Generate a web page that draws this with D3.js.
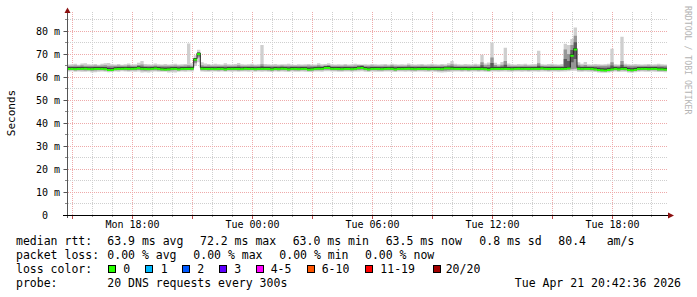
<!DOCTYPE html>
<html><head><meta charset="utf-8">
<script src="https://cdn.jsdelivr.net/npm/d3@7"></script>
<style>
html,body{margin:0;padding:0;background:#fff;}
svg{display:block;}
text{font-family:"DejaVu Sans Mono",monospace;}
</style></head><body>
<svg id="c" width="697" height="297"></svg>
<script>
// ---------- data ----------
const startTime = "2026-04-20T14:45:00Z";
const endTime   = "2026-04-21T20:45:00Z";
const stepMinutes = 10;

// median rtt per step (ms)
const median = [
63.8,63.8,63.7,63.8,63.8,63.9,63.7,63.7,63.8,63.8,
63.8,63.7,63.3,63.3,63.7,63.8,63.8,63.9,63.8,63.8,
63.9,64.1,63.8,63.8,63.7,63.8,64.0,63.8,63.6,63.5,
63.6,63.8,63.8,63.6,63.8,63.8,63.8,63.9,67.8,70.2,
63.9,63.8,63.8,63.8,63.7,63.8,63.8,63.6,63.8,63.8,
63.8,63.8,63.7,63.9,63.8,63.8,63.7,63.8,63.8,63.8,
63.8,63.6,63.8,63.7,63.9,63.8,63.6,63.8,63.8,63.7,
63.8,63.8,63.5,63.6,63.8,63.9,63.8,64.2,64.2,63.8,
63.8,63.8,63.7,63.8,63.8,63.7,63.8,64.1,64.2,63.8,
63.6,63.8,63.8,63.8,63.7,63.8,63.9,63.8,63.6,63.8,
63.8,63.8,63.9,63.8,63.7,63.8,63.8,63.8,63.7,63.8,
63.8,63.8,63.7,64.0,64.0,63.9,63.8,63.8,63.8,63.8,
63.7,63.8,63.8,63.8,63.8,63.7,63.5,63.8,63.8,63.8,
63.8,63.8,63.8,63.7,63.8,63.9,63.8,63.8,63.8,63.8,
63.8,63.8,64.0,63.8,63.8,63.8,63.8,63.8,63.8,63.8,
64.0,69.5,72.2,63.9,63.8,63.8,63.8,63.8,63.6,63.3,
63.2,63.1,63.3,63.6,63.8,63.6,63.8,63.8,63.3,63.2,
63.4,63.8,63.8,63.8,63.7,63.8,63.8,63.6,63.6,63.5];

// highest ping per step (light smoke top)
const smokeMax = [
65.5,65.6,65.8,65.4,65.9,66.0,65.6,65.5,65.7,65.4,
65.8,66.0,66.1,65.6,65.5,65.7,65.4,65.6,65.9,65.5,
65.6,66.2,67.0,65.7,65.6,65.5,65.9,65.6,65.5,65.7,
65.5,65.6,65.8,65.5,65.6,65.7,74.6,66.0,69.5,71.9,
66.5,65.9,65.7,65.5,65.8,65.6,65.5,66.0,65.6,65.5,
65.7,66.1,65.6,65.5,65.6,65.8,65.5,65.6,74.0,65.7,
65.6,65.5,65.7,65.5,65.6,65.6,65.8,65.5,65.4,65.6,
65.5,65.6,65.7,65.5,65.5,66.0,65.6,65.7,66.0,65.6,
65.5,65.6,65.5,65.7,65.5,65.6,65.8,65.6,65.5,65.6,
65.5,65.7,65.6,65.5,65.6,65.7,65.5,65.8,65.6,65.5,
65.6,65.5,65.9,65.6,65.5,65.6,65.7,65.5,65.6,65.8,
65.6,65.5,65.7,65.6,66.0,67.0,65.8,65.6,65.5,65.7,
65.6,65.5,65.8,65.6,69.7,65.9,66.4,75.0,66.3,65.6,
66.6,72.8,65.9,65.6,65.5,65.7,65.6,65.8,65.5,65.6,
65.7,71.5,65.6,65.5,65.7,65.8,65.6,65.5,65.7,74.5,
74.0,76.5,81.5,66.5,65.8,66.6,65.6,65.5,65.7,65.6,
65.5,65.6,65.8,72.3,65.6,65.5,77.5,65.8,65.6,65.5,
65.7,65.6,65.5,65.6,65.7,65.5,65.6,65.8,65.6,65.5];

// upper edge of the dense smoke
const smokeHi = [
65.0,64.9,65.1,65.0,65.2,65.0,64.9,65.0,65.1,65.0,
65.1,65.2,65.0,64.9,65.0,65.1,65.0,64.9,65.2,65.0,
65.0,65.3,65.5,65.0,64.9,65.0,65.1,65.0,64.9,65.0,
65.0,64.9,65.1,65.0,65.0,65.1,65.2,65.0,68.3,70.8,
65.2,65.0,65.1,64.9,65.0,65.0,64.9,65.1,65.0,64.9,
65.0,65.2,65.0,64.9,65.0,65.1,65.0,64.9,65.6,65.0,
65.0,64.9,65.0,65.0,65.1,64.9,65.0,65.0,64.9,65.0,
65.0,64.9,65.1,65.0,64.9,65.2,65.0,65.1,65.3,65.0,
64.9,65.0,65.0,65.1,64.9,65.0,65.1,65.2,65.3,65.0,
65.0,65.1,65.0,64.9,65.0,65.1,64.9,65.2,65.0,65.0,
65.0,64.9,65.2,65.0,65.0,64.9,65.1,65.0,64.9,65.1,
65.0,64.9,65.1,65.0,65.2,65.6,65.1,65.0,64.9,65.0,
65.0,64.9,65.1,65.0,66.5,65.2,65.4,68.5,65.3,65.0,
65.4,67.0,65.1,65.0,64.9,65.0,65.0,65.1,64.9,65.0,
65.0,66.0,65.0,64.9,65.0,65.1,65.0,64.9,65.0,72.0,
70.0,74.0,78.0,65.4,65.1,65.3,65.0,64.9,65.0,65.0,
64.9,65.0,65.1,66.5,65.0,64.9,67.0,65.1,65.0,64.9,
65.0,65.0,64.9,65.0,65.1,64.9,65.0,65.1,65.0,64.9];

// lower edge of the dense smoke
const smokeLo = [
63.0,63.1,62.9,63.0,63.0,62.9,63.0,62.8,62.9,63.0,
63.0,62.9,62.7,62.8,63.0,63.0,63.1,63.0,62.9,63.0,
63.0,63.1,62.9,62.8,62.9,63.0,63.0,62.9,62.8,62.8,
62.8,62.9,63.0,62.9,63.0,63.0,63.1,63.0,66.0,68.5,
63.0,63.0,62.9,63.0,63.0,62.9,63.0,62.8,63.0,63.0,
63.0,62.9,63.0,63.0,63.0,63.1,62.9,63.0,63.0,63.0,
62.9,62.8,63.0,62.9,63.0,63.0,62.8,63.0,62.9,62.9,
63.0,63.0,62.8,62.8,63.0,63.0,63.0,63.2,63.2,63.0,
63.0,62.9,62.9,63.0,63.0,62.9,63.0,63.1,63.2,63.0,
62.8,63.0,63.0,62.9,62.9,63.0,63.0,63.0,62.8,63.0,
63.0,63.0,63.0,62.9,62.9,63.0,63.0,63.0,62.9,63.0,
62.9,62.8,62.7,62.8,62.9,63.0,63.0,63.0,62.9,63.0,
62.9,63.0,63.0,62.9,63.0,62.9,62.8,63.0,63.0,63.0,
63.0,63.1,63.0,62.9,63.0,63.0,63.0,63.0,62.9,63.0,
63.0,63.0,63.1,63.0,62.9,63.0,63.0,63.0,63.0,63.1,
63.2,63.4,63.6,63.0,62.9,63.0,63.0,62.9,62.8,62.6,
62.5,62.5,62.6,62.8,63.0,62.8,63.0,62.9,62.6,62.5,
62.7,62.9,63.0,63.0,62.9,63.0,63.0,62.8,62.8,62.7];

// lowest ping per step (light smoke bottom)
const smokeMin = [
62.5,62.6,62.4,62.5,62.4,62.3,62.5,62.0,62.1,62.4,
62.5,62.4,62.1,62.2,62.5,62.4,62.6,62.5,62.4,62.5,
62.4,62.5,62.0,62.1,62.0,62.4,62.5,62.4,62.3,62.3,
62.0,62.1,62.0,62.4,62.5,62.4,62.5,62.5,64.8,66.5,
62.5,62.4,62.4,62.5,62.5,62.4,62.5,62.3,62.5,62.4,
62.5,62.4,62.5,62.5,62.4,62.5,62.4,62.5,62.4,62.5,
62.4,62.2,62.5,62.4,62.5,62.4,62.2,62.5,62.4,62.4,
62.5,62.4,62.2,62.2,62.5,62.5,62.4,62.6,62.6,62.5,
62.5,62.4,62.4,62.5,62.5,62.4,62.5,62.5,62.6,62.4,
62.2,62.5,62.4,62.4,62.4,62.5,62.5,62.4,62.2,62.5,
62.5,62.4,62.5,62.4,62.4,62.5,62.5,62.4,62.4,62.5,
62.3,62.1,62.0,62.1,62.2,62.4,62.5,62.5,62.4,62.5,
62.4,62.5,62.5,62.4,62.5,62.4,62.2,62.5,62.5,62.4,
62.5,62.5,62.4,62.4,62.5,62.5,62.4,62.5,62.4,62.5,
62.5,62.4,62.5,62.5,62.4,62.5,62.5,62.4,62.5,62.5,
62.6,62.8,62.8,62.4,62.4,62.5,62.4,62.3,62.2,62.0,
61.9,61.9,62.0,62.2,62.5,62.2,62.4,62.3,62.0,61.9,
62.1,62.3,62.5,62.4,62.3,62.5,62.4,62.2,62.2,62.1];

const yTickValues = [0,10,20,30,40,50,60,70,80];
const yTickLabels = [" 0  ","10 m","20 m","30 m","40 m","50 m","60 m","70 m","80 m"];
const xTickValues = ["2026-04-20T18:00:00Z","2026-04-21T00:00:00Z","2026-04-21T06:00:00Z","2026-04-21T12:00:00Z","2026-04-21T18:00:00Z"];
const xTickLabels = ["Mon 18:00","Tue 00:00","Tue 06:00","Tue 12:00","Tue 18:00"];

const rttStats  = ["63.9 ms avg","72.2 ms max","63.0 ms min","63.5 ms now","0.8 ms sd","80.4","am/s"];
const lossStats = ["0.00 % avg","0.00 % max","0.00 % min","0.00 % now"];
const lossLabels = ["0","1","2","3","4-5","6-10","11-19","20/20"];
const lossColors = ["#26ff00","#00b8ff","#0059ff","#5e00ff","#ff00fe","#ff5500","#ff0000","#a10000"];
const probeText = "20 DNS requests every 300s";
const stampText = "Tue Apr 21 20:42:36 2026";

// ---------- drawing ----------
const svg = d3.select("#c");
const t0 = new Date(startTime), t1 = new Date(endTime);
const x = d3.scaleUtc().domain([t0, t1]).range([67, 667]);
const y = d3.scaleLinear().domain([0, 88]).range([215.5, 12.6]);
const px = v => Math.floor(v) + 0.5;

const pts = median.map((m, i) => ({
  t: new Date(t0.getTime() + i * stepMinutes * 60000),
  med: m, max: smokeMax[i], hi: smokeHi[i], lo: smokeLo[i], min: smokeMin[i]
}));
const last = pts[pts.length - 1];
const ptsExt = pts.concat([Object.assign({}, last, {t: new Date(last.t.getTime() + stepMinutes * 60000)})]);

svg.append("defs").append("clipPath").attr("id", "plot")
  .append("rect").attr("x", 68).attr("y", 10).attr("width", 599).attr("height", 205);

// grid
const grid = svg.append("g");
const hours = d3.utcHour.every(1).range(t0, t1);
hours.forEach(h => {
  const major = h.getUTCHours() % 3 === 0;
  grid.append("line").attr("x1", px(x(h))).attr("x2", px(x(h)))
    .attr("y1", 215).attr("y2", 12)
    .attr("stroke", major ? "#eeaaaa" : "#cfcfcf").attr("stroke-dasharray", "1,1");
});
d3.range(5, 90, 5).forEach(v => {
  const major = v % 10 === 0;
  grid.append("line").attr("x1", 68).attr("x2", 667)
    .attr("y1", px(y(v))).attr("y2", px(y(v)))
    .attr("stroke", major ? "#eeaaaa" : "#cfcfcf").attr("stroke-dasharray", "1,1");
});

// smoke
const plot = svg.append("g").attr("clip-path", "url(#plot)");
const area = (lo, hi) => d3.area().curve(d3.curveStepAfter)
  .x(d => x(d.t)).y0(d => y(lo(d))).y1(d => y(hi(d)));
plot.append("path").datum(ptsExt).attr("fill", "#cfcfcf")
  .attr("d", area(d => d.min, d => d.max));
plot.append("path").datum(ptsExt).attr("fill", "#969696")
  .attr("d", area(d => d.lo, d => d.hi));
plot.append("path").datum(ptsExt).attr("fill", "#5a5a5a")
  .attr("d", area(d => (d.lo + d.med) / 2, d => (d.med + d.hi) / 2));

// median line
plot.append("path").datum(ptsExt).attr("fill", "none").attr("stroke", "#202020").attr("stroke-width", 1)
  .attr("d", d3.line().curve(d3.curveStepAfter).x(d => x(d.t)).y(d => y(d.med) - 0.5));
plot.selectAll("line.med").data(pts).join("line").attr("class", "med")
  .attr("x1", d => x(d.t)).attr("x2", d => x(new Date(d.t.getTime() + stepMinutes * 60000)))
  .attr("y1", d => y(d.med) + 0.5).attr("y2", d => y(d.med) + 0.5)
  .attr("stroke", lossColors[0]).attr("stroke-width", 2);

// axes
const yAxis = svg.append("g").attr("transform", "translate(67.5,0)")
  .call(d3.axisLeft(y).tickValues(yTickValues).tickFormat((d, i) => yTickLabels[i]).tickSize(4).tickPadding(3.5));
yAxis.select(".domain").remove();
yAxis.selectAll(".tick line").attr("stroke", "#555");
yAxis.selectAll("text").attr("font-size", 10).attr("fill", "#000")
  .attr("font-family", "DejaVu Sans Mono").style("white-space", "pre");
yAxis.selectAll(".tick").attr("transform", d => `translate(0,${px(y(d))})`);

const xAxis = svg.append("g").attr("transform", "translate(0,215.5)")
  .call(d3.axisBottom(x).tickValues(xTickValues.map(s => new Date(s)))
    .tickFormat((d, i) => xTickLabels[i]).tickSize(0).tickPadding(5.5));
xAxis.select(".domain").remove();
xAxis.selectAll("text").attr("font-size", 10).attr("fill", "#000").attr("font-family", "DejaVu Sans Mono");

// axis ticks (minor / major)
hours.forEach(h => {
  const major = h.getUTCHours() % 3 === 0;
  svg.append("line").attr("x1", px(x(h))).attr("x2", px(x(h)))
    .attr("y1", 215).attr("y2", major ? 219 : 217)
    .attr("stroke", major ? "#c04848" : "#999");
});
d3.range(5, 90, 10).forEach(v => {
  svg.append("line").attr("x1", 65).attr("x2", 67).attr("y1", px(y(v))).attr("y2", px(y(v))).attr("stroke", "#888");
});

// axis lines + arrows
svg.append("line").attr("x1", 67.5).attr("x2", 67.5).attr("y1", 218).attr("y2", 11).attr("stroke", "#555");
svg.append("line").attr("x1", 63).attr("x2", 669).attr("y1", 215.5).attr("y2", 215.5).attr("stroke", "#000");
svg.append("path").attr("d", "M64.5,13 L67.5,7.5 L70.5,13 Z").attr("fill", "#8b1010");
svg.append("path").attr("d", "M668,212.5 L674,215.5 L668,218.5 Z").attr("fill", "#8b1010");

// titles
svg.append("text").attr("transform", "translate(15,113) rotate(-90)")
  .attr("text-anchor", "middle").attr("font-size", 11).attr("fill", "#000").text("Seconds");
svg.append("text").attr("transform", "translate(685,6) rotate(90)")
  .attr("font-size", 8.2).attr("fill", "#b4b4b4").text("RRDTOOL / TOBI OETIKER");

// legend
const lg = svg.append("g").attr("font-size", 11.5).attr("fill", "#000");
const put = (tx, xx, yy, anchor) => lg.append("text").attr("x", xx).attr("y", yy)
  .attr("text-anchor", anchor || "start").style("white-space", "pre").text(tx);
put("median rtt:", 16, 245);
[107.3, 200, 292.7, 385.7, 479.3, 558.3, 606.7].forEach((xx, i) => put(rttStats[i], xx, 245));
put("packet loss:", 16, 259);
[107.3, 193.3, 279.3, 365].forEach((xx, i) => put(lossStats[i], xx, 259));
put("loss color:", 16, 273);
const boxX = [108.5, 145.5, 182.5, 219.5, 256.5, 307.5, 365.5, 433.5];
const lblX = [123.3, 160.7, 197.3, 234.3, 270.7, 321.7, 380.3, 445.7];
lossLabels.forEach((l, i) => {
  lg.append("rect").attr("x", boxX[i]).attr("y", 265.5).attr("width", 7).attr("height", 7)
    .attr("fill", lossColors[i]).attr("stroke", "#000").attr("stroke-width", 1);
  put(l, lblX[i], 273);
});
put("probe:", 16, 287);
put(probeText, 107.3, 287);
put(stampText, 681, 287, "end");
</script>
</body></html>
